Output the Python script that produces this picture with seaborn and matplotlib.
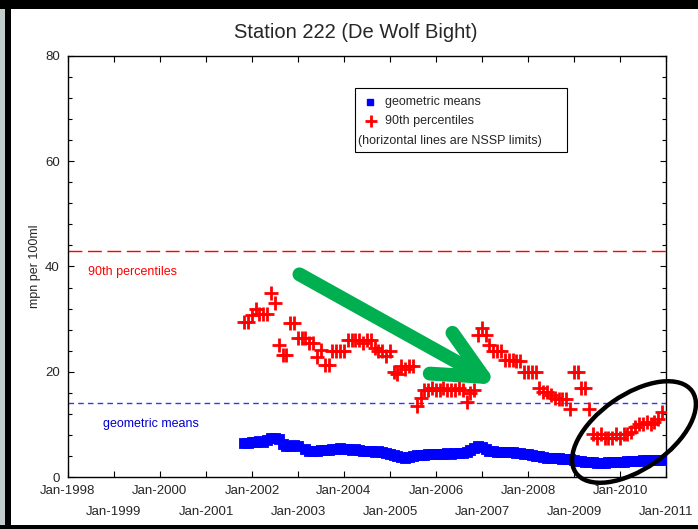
import numpy as np
import pandas as pd
import matplotlib
matplotlib.use("Agg")
import matplotlib.pyplot as plt
import seaborn as sns
from matplotlib.patches import Rectangle, Ellipse, FancyArrowPatch

# ---------------- data ----------------
title = "Station 222 (De Wolf Bight)"
ylabel = "mpn per 100ml"
first_month = "2001-11-01"
geo_means = [6.5, 6.5, 6.7, 6.7, 6.8, 6.6, 7.0, 7.4, 7.5, 7.2,
             6.2, 5.8, 5.9, 6.1, 5.8, np.nan, 5.3, 5.0, 4.9, 5.0,
             5.1, 5.2, 5.2, 5.3, 5.4, 5.5, 5.4, 5.3, 5.2, 5.3,
             5.2, 5.0, 5.0, 4.9, 4.8, 4.9, 4.7, 4.5, 4.3, 4.1,
             4.0, 3.8, 3.7, 3.8, 4.0, 4.1, 4.2, 4.2, 4.3, 4.3,
             4.4, 4.4, 4.4, 4.5, 4.4, 4.5, 4.6, 4.6, 4.8, 5.2,
             5.6, 5.9, 5.7, 5.3, 5.0, 4.9, 4.8, 4.8, 4.8, 4.7,
             4.7, 4.6, 4.5, 4.4, 4.3, 4.2, 4.0, 3.9, 3.8, 3.7,
             3.7, 3.6, 3.6, 3.5, 3.5, 3.4, 3.2, 3.1, 3.0, 2.9,
             2.8, 2.8, 2.7, 2.7, 2.7, 2.8, 2.8, 2.8, 2.9, 2.9,
             3.0, 3.0, 3.1, 3.1, 3.2, 3.2, 3.2, 3.3, 3.3, 3.3]
p90 = [29.5, 29.5, 30.8, 32.0, 31.0, 31.0, 31.0, 35.0, 33.0, 25.0,
       23.2, 23.2, 29.3, 29.3, 26.4, 26.4, 26.4, 25.5, 25.5, 22.8,
       24.1, 21.3, 21.3, 24.0, 24.0, 24.0, 24.0, 26.0, 26.0, 26.0,
       26.0, 25.5, 26.0, 26.0, 24.5, 24.0, 24.0, 23.0, 24.0, 20.0,
       19.5, 21.0, 20.5, 21.0, 21.0, 13.5, 15.0, 16.5, 16.5, 17.0,
       16.5, 16.5, 17.0, 16.5, 16.5, 16.5, 17.0, 16.5, 14.3, 16.0,
       16.5, 27.0, 28.3, 27.0, 25.0, 24.0, 24.0, 24.0, 22.3, 22.3,
       22.3, 22.0, 22.0, 20.0, 20.0, 20.0, 20.0, 17.0, 16.2, 16.2,
       15.5, 15.0, 14.8, 14.8, 14.8, 13.0, 20.0, 20.0, 17.0, 17.0,
       13.0, 8.2, 7.5, 8.2, 7.5, 7.5, 7.5, 8.2, 7.5, 8.2,
       8.2, 8.5, 9.5, 10.0, 10.0, 10.5, 10.0, 10.5, 11.0, 12.3]
nssp_p90_limit = 43
nssp_geo_limit = 14
legend_labels = ["geometric means", "90th percentiles", "(horizontal lines are NSSP limits)"]
line_labels = ["90th percentiles", "geometric means"]
even_years = list(range(1998, 2012, 2))
odd_years = list(range(1999, 2012, 2))

dates = pd.date_range(first_month, periods=len(p90), freq="MS")
df = pd.DataFrame({"date": dates, "geo": geo_means, "p90": p90})

# ---------------- style ----------------
sns.set_style("ticks")
plt.rcParams["font.family"] = ["Liberation Sans", "DejaVu Sans"]

W, H = 698, 529
fig = plt.figure(figsize=(W / 100, H / 100), dpi=100)
fig.patch.set_facecolor("white")
L, R, T, B = 68, 666, 56, 477
ax = fig.add_axes([L / W, (H - B) / H, (R - L) / W, (B - T) / H])

sns.scatterplot(data=df, x="date", y="geo", ax=ax, marker="s", s=48,
                color="#0000ff", edgecolor="#0000ff", linewidth=0.6, zorder=3)
sns.scatterplot(data=df, x="date", y="p90", ax=ax, marker="+", s=90,
                color="#ff0000", linewidth=2.0, zorder=4)

ax.axhline(nssp_p90_limit, color="#ff0000", lw=1.0, dashes=(10, 4), zorder=2)
ax.axhline(nssp_geo_limit, color="#3333ff", lw=1.0, dashes=(4, 3), zorder=2)

ax.set_xlim(pd.Timestamp("1998-01-01"), pd.Timestamp("2011-01-01"))
ax.set_ylim(0, 80)
ax.set_xlabel("")
ax.set_ylabel(ylabel, fontsize=9, labelpad=3)

ax.set_xticks([pd.Timestamp(f"{y}-01-01") for y in even_years])
ax.set_xticklabels([f"Jan-{y}" for y in even_years])
ax.set_xticks([pd.Timestamp(f"{y}-01-01") for y in odd_years], minor=True)
ax.set_xticklabels([f"Jan-{y}" for y in odd_years], minor=True)
ax.set_yticks([0, 20, 40, 60, 80])
ax.set_yticks(np.arange(0, 81, 4), minor=True)
ax.tick_params(axis="both", which="both", direction="in", top=True, right=True,
               color="black", width=0.8)
ax.tick_params(axis="x", which="both", length=4, labelsize=9.5)
ax.tick_params(axis="x", which="major", pad=6)
ax.tick_params(axis="x", which="minor", pad=21)
ax.tick_params(axis="y", which="major", length=4, pad=6, labelsize=9.5)
ax.tick_params(axis="y", which="minor", length=3)
for s in ax.spines.values():
    s.set_color("black")
    s.set_linewidth(1.0)

def ax_xy(px, py):
    return (px - L) / (R - L), (B - py) / (B - T)

ax.text(*ax_xy(88, 272), line_labels[0], color="#ff0000", fontsize=9,
        ha="left", va="center", transform=ax.transAxes)
ax.text(*ax_xy(103, 424), line_labels[1], color="#0000cc", fontsize=9,
        ha="left", va="center", transform=ax.transAxes)

# legend box
x0, y0 = ax_xy(355, 152)
x1, y1 = ax_xy(567, 88)
ax.add_patch(Rectangle((x0, y0), x1 - x0, y1 - y0, transform=ax.transAxes,
                       facecolor="white", edgecolor="black", lw=0.8, zorder=6))
ax.plot(*ax_xy(370, 102), marker="s", ms=5, color="#0000ff", transform=ax.transAxes, zorder=7)
ax.plot(*ax_xy(371, 121), marker="+", ms=9, mew=2, color="#ff0000", transform=ax.transAxes, zorder=7)
ax.text(*ax_xy(385, 102), legend_labels[0], fontsize=9, ha="left", va="center",
        transform=ax.transAxes, zorder=7)
ax.text(*ax_xy(385, 121), legend_labels[1], fontsize=9, ha="left", va="center",
        transform=ax.transAxes, zorder=7)
ax.text(*ax_xy(358, 141), legend_labels[2], fontsize=9, ha="left", va="center",
        transform=ax.transAxes, zorder=7)

fig.text(356 / W, (H - 33) / H, title, fontsize=14.5, ha="center", va="center")

# annotations drawn over the chart (green arrow, black ellipse)
def inch(px, py):
    return px / 100, (H - py) / 100

arrow = FancyArrowPatch(inch(297, 273), inch(500, 386),
                        arrowstyle="->,head_length=2.5,head_width=1.2",
                        mutation_scale=14, lw=10, color="#00b050",
                        transform=fig.dpi_scale_trans, capstyle="round",
                        joinstyle="round", zorder=10)
fig.add_artist(arrow)
ell = Ellipse(inch(634, 432), 1.42, 0.74, angle=35, transform=fig.dpi_scale_trans,
              fill=False, edgecolor="black", lw=3.2, zorder=10)
fig.add_artist(ell)

# screenshot frame
def frame(px, py, w, h, c):
    fig.add_artist(Rectangle((px / 100, (H - py - h) / 100), w / 100, h / 100,
                             transform=fig.dpi_scale_trans, facecolor=c,
                             edgecolor="none", zorder=20))

frame(0, 0, 5, H, "#c3cccc")
frame(5, 0, 6, H, "black")
frame(0, 0, W, 9, "black")
frame(0, H - 4, W, 4, "black")

fig.savefig("out.png", dpi=100)
